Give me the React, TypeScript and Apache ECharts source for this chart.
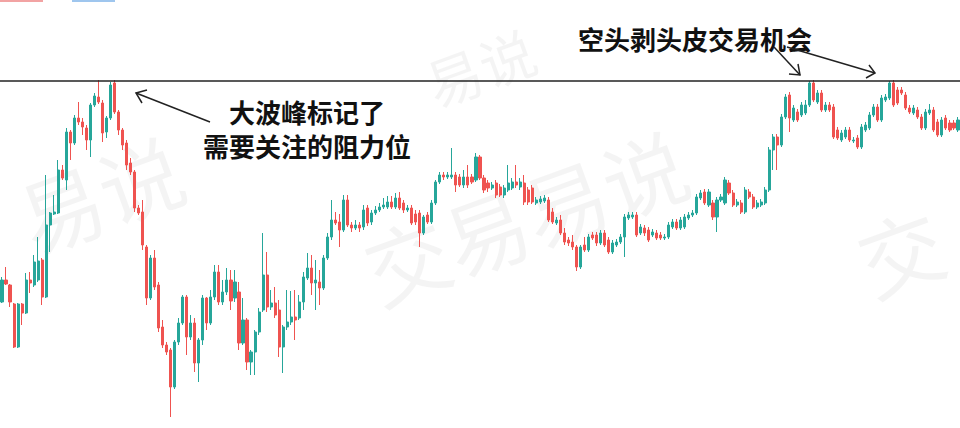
import React, { useEffect, useRef } from "react";
import * as echarts from "echarts";

// [open, close, low, high] — arbitrary price units
const candles: [number, number, number, number][] = [
  [126, 148, 125, 151], [148, 144, 143, 161], [143, 126, 121, 144], [124, 81, 80, 125],
  [81, 124, 80, 125], [124, 115, 103, 125], [115, 148, 114, 155], [148, 145, 135, 156],
  [143, 166, 141, 173], [148, 167, 146, 191], [168, 131, 123, 170], [131, 203, 130, 253],
  [203, 215, 176, 216], [214, 216, 213, 233], [215, 258, 214, 268], [258, 250, 248, 263],
  [248, 296, 238, 300], [296, 285, 268, 298], [285, 310, 283, 313], [310, 306, 303, 326],
  [306, 301, 293, 310], [300, 288, 278, 303], [288, 323, 271, 325], [323, 332, 321, 335],
  [331, 326, 324, 348], [325, 295, 286, 328], [296, 310, 290, 312], [310, 343, 308, 346],
  [345, 316, 314, 348], [316, 298, 293, 318], [298, 283, 278, 300], [285, 263, 258, 288],
  [265, 256, 253, 270], [256, 220, 216, 258], [220, 215, 213, 223], [216, 183, 178, 228],
  [181, 130, 123, 183], [130, 170, 128, 173], [170, 141, 138, 178], [143, 100, 96, 146],
  [101, 83, 80, 108], [83, 76, 73, 86], [78, 41, 11, 80], [41, 86, 39, 88],
  [86, 105, 83, 110], [105, 131, 103, 133], [131, 91, 73, 133], [91, 105, 88, 113],
  [105, 65, 56, 110], [65, 88, 46, 90], [88, 130, 83, 133], [130, 105, 98, 131],
  [105, 131, 103, 138], [131, 156, 128, 163], [156, 126, 123, 163], [126, 136, 123, 148],
  [136, 148, 133, 160], [148, 127, 118, 158], [130, 146, 126, 158], [136, 85, 78, 146],
  [85, 108, 83, 130], [108, 66, 58, 110], [66, 76, 53, 78], [76, 96, 53, 98],
  [96, 116, 93, 120], [118, 153, 116, 195], [153, 121, 116, 176], [121, 125, 118, 138],
  [125, 113, 110, 141], [118, 81, 71, 128], [81, 101, 55, 103], [101, 106, 98, 138],
  [106, 111, 103, 137], [111, 108, 88, 138], [110, 126, 108, 133], [126, 151, 118, 156],
  [150, 160, 148, 175], [160, 145, 133, 173], [145, 148, 118, 168], [146, 140, 123, 158],
  [140, 170, 138, 173], [170, 191, 168, 195], [191, 208, 188, 228], [208, 205, 203, 216],
  [206, 198, 181, 214], [198, 228, 196, 233], [228, 203, 201, 233], [203, 200, 196, 206],
  [200, 203, 198, 208], [203, 200, 196, 206], [201, 218, 198, 223], [220, 205, 202, 223],
  [206, 215, 203, 218], [215, 218, 213, 222], [218, 221, 216, 225], [221, 223, 219, 230],
  [221, 226, 219, 232], [226, 221, 219, 232], [221, 230, 219, 235], [230, 220, 218, 236],
  [225, 218, 215, 228], [218, 220, 216, 223], [220, 205, 203, 223], [214, 206, 203, 218],
  [215, 195, 181, 218], [195, 211, 193, 213], [213, 206, 204, 216], [206, 225, 204, 228],
  [225, 246, 223, 248], [246, 253, 244, 256], [253, 251, 248, 256], [251, 253, 249, 256],
  [251, 253, 249, 280], [253, 243, 236, 256], [251, 243, 241, 254], [243, 251, 240, 258],
  [251, 243, 240, 263], [251, 246, 244, 254], [248, 271, 246, 275], [271, 250, 248, 273],
  [250, 238, 235, 253], [245, 240, 236, 248], [240, 243, 238, 246], [245, 233, 230, 248],
  [241, 233, 231, 244], [233, 240, 230, 243], [238, 245, 236, 263], [240, 246, 238, 250],
  [246, 243, 240, 263], [241, 246, 238, 250], [245, 226, 223, 253], [238, 226, 223, 241],
  [240, 226, 224, 243], [225, 228, 223, 231], [226, 229, 224, 232], [227, 230, 225, 233],
  [228, 208, 206, 231], [216, 206, 204, 220], [205, 208, 203, 211], [208, 195, 193, 213],
  [195, 186, 183, 200], [188, 185, 182, 191], [186, 181, 178, 193], [181, 161, 157, 183],
  [161, 181, 159, 183], [183, 178, 176, 191], [178, 191, 176, 194], [193, 190, 188, 196],
  [193, 185, 182, 196], [185, 195, 183, 198], [195, 183, 181, 198], [188, 176, 174, 191],
  [176, 185, 174, 188], [183, 186, 181, 189], [186, 191, 184, 194], [191, 211, 171, 214],
  [210, 213, 208, 216], [211, 213, 209, 216], [213, 193, 191, 216], [195, 201, 193, 204],
  [200, 195, 192, 203], [198, 188, 186, 201], [193, 196, 191, 199], [195, 190, 188, 198],
  [193, 190, 188, 196], [190, 191, 188, 194], [191, 203, 189, 206], [201, 206, 199, 209],
  [206, 200, 198, 209], [200, 208, 198, 211], [201, 211, 199, 214], [210, 213, 208, 216],
  [213, 215, 211, 218], [215, 231, 213, 234], [230, 235, 228, 238], [236, 225, 223, 239],
  [223, 236, 221, 239], [225, 211, 208, 228], [211, 228, 196, 231], [228, 231, 226, 234],
  [225, 248, 223, 251], [245, 235, 233, 248], [235, 223, 221, 238], [223, 226, 221, 229],
  [225, 216, 214, 228], [216, 238, 214, 241], [236, 231, 229, 239], [231, 221, 219, 234],
  [221, 225, 219, 228], [223, 226, 221, 229], [225, 238, 223, 241], [238, 278, 236, 281],
  [278, 291, 258, 294], [291, 283, 258, 294], [283, 311, 281, 314], [311, 331, 309, 334],
  [333, 310, 296, 336], [308, 320, 306, 323], [316, 308, 306, 319], [313, 323, 311, 326],
  [315, 323, 313, 328], [323, 345, 321, 347], [345, 328, 326, 348], [326, 335, 324, 338],
  [335, 318, 316, 338], [318, 323, 316, 326], [323, 318, 316, 326], [321, 291, 289, 324],
  [298, 290, 288, 301], [288, 295, 286, 298], [291, 298, 289, 301], [298, 288, 286, 301],
  [287, 288, 285, 291], [290, 281, 279, 293], [281, 301, 279, 304], [298, 303, 296, 306],
  [300, 313, 298, 316], [313, 321, 311, 324], [321, 308, 306, 324], [308, 330, 306, 333],
  [328, 331, 326, 334], [330, 345, 328, 347], [345, 323, 321, 348], [338, 325, 323, 341],
  [338, 335, 333, 341], [333, 320, 318, 336], [320, 316, 314, 323], [315, 320, 313, 323],
  [318, 311, 309, 321], [311, 300, 298, 314], [300, 316, 298, 319], [315, 318, 313, 324],
  [318, 298, 296, 321], [306, 293, 291, 309], [293, 308, 291, 311], [310, 300, 298, 313],
  [305, 298, 296, 308], [305, 300, 298, 308], [298, 308, 296, 311],
];

const categories = candles.map((_, i) => String(i + 1));
const resistanceLevel = 347;
const noteLeft = ["大波峰标记了", "需要关注的阻力位"];
const noteRight = "空头剥头皮交易机会";
const watermark = "交易易说";
const watermarkLeft = "易说";
const watermarkTop = "易说";
const watermarkRight = "交";

const UP = "#26a69a";
const DOWN = "#ef5350";
const FONT = '"Noto Sans CJK SC", "Noto Sans", sans-serif';

export default function App() {
  const ref = useRef<HTMLDivElement>(null);

  useEffect(() => {
    document.body.style.margin = "0";
    if (!ref.current) return;
    const chart = echarts.init(ref.current, null, { renderer: "svg" });

    const wmStyle = (text: string, size = 84) => ({
      text,
      font: `${size}px ${FONT}`,
      fill: "rgba(0,0,0,0.045)",
      textAlign: "center",
      textVerticalAlign: "middle",
    });
    const noteStyle = (text: string) => ({
      text,
      font: `bold 26px ${FONT}`,
      fill: "#111",
      textVerticalAlign: "middle",
    });
    const arrowStroke = { stroke: "#222", lineWidth: 1.5, fill: null };

    chart.setOption({
      animation: false,
      backgroundColor: "#fff",
      grid: { left: 0, right: 0, top: 0, bottom: 0 },
      xAxis: {
        type: "category",
        data: categories,
        boundaryGap: true,
        show: false,
      },
      yAxis: { type: "value", min: 0, max: 428, show: false },
      series: [
        {
          type: "candlestick",
          data: candles,
          barWidth: 2.6,
          itemStyle: {
            color: UP,
            color0: DOWN,
            borderColor: UP,
            borderColor0: DOWN,
            borderWidth: 1,
          },
          markLine: {
            silent: true,
            symbol: "none",
            label: { show: false },
            lineStyle: { color: "#222", width: 1.5, type: "solid" },
            data: [{ yAxis: resistanceLevel }],
          },
        },
      ],
      graphic: [
        // watermarks
        { type: "text", x: 525, y: 215, rotation: 0.35, z: 0, style: wmStyle(watermark) },
        { type: "text", x: 100, y: 192, rotation: 0.35, z: 0, style: wmStyle(watermarkLeft) },
        { type: "text", x: 480, y: 66, rotation: 0.35, z: 0, style: wmStyle(watermarkTop, 56) },
        { type: "text", x: 900, y: 250, rotation: 0.35, z: 0, style: wmStyle(watermarkRight) },
        // cut-off legend marks
        { type: "rect", shape: { x: 0, y: 0, width: 43, height: 2 }, style: { fill: "#f2a3a3" } },
        { type: "rect", shape: { x: 72, y: 0, width: 43, height: 2 }, style: { fill: "#9fc6ee" } },
        // notes
        { type: "text", x: 229, y: 111, z: 100, style: noteStyle(noteLeft[0]) },
        { type: "text", x: 203, y: 145, z: 100, style: noteStyle(noteLeft[1]) },
        { type: "text", x: 578, y: 38, z: 100, style: noteStyle(noteRight) },
        // arrows
        { type: "line", z: 100, shape: { x1: 210, y1: 122, x2: 136, y2: 93 }, style: arrowStroke },
        { type: "polyline", z: 100, shape: { points: [[147, 90], [136, 93], [142, 103]] }, style: arrowStroke },
        { type: "line", z: 100, shape: { x1: 774, y1: 47, x2: 800, y2: 75 }, style: arrowStroke },
        { type: "polyline", z: 100, shape: { points: [[798, 64], [800, 75], [789, 74]] }, style: arrowStroke },
        { type: "line", z: 100, shape: { x1: 787, y1: 47, x2: 875, y2: 73 }, style: arrowStroke },
        { type: "polyline", z: 100, shape: { points: [[869, 65], [875, 73], [866, 78]] }, style: arrowStroke },
      ],
    });

    return () => chart.dispose();
  }, []);

  return <div ref={ref} style={{ width: 960, height: 428 }} />;
}
